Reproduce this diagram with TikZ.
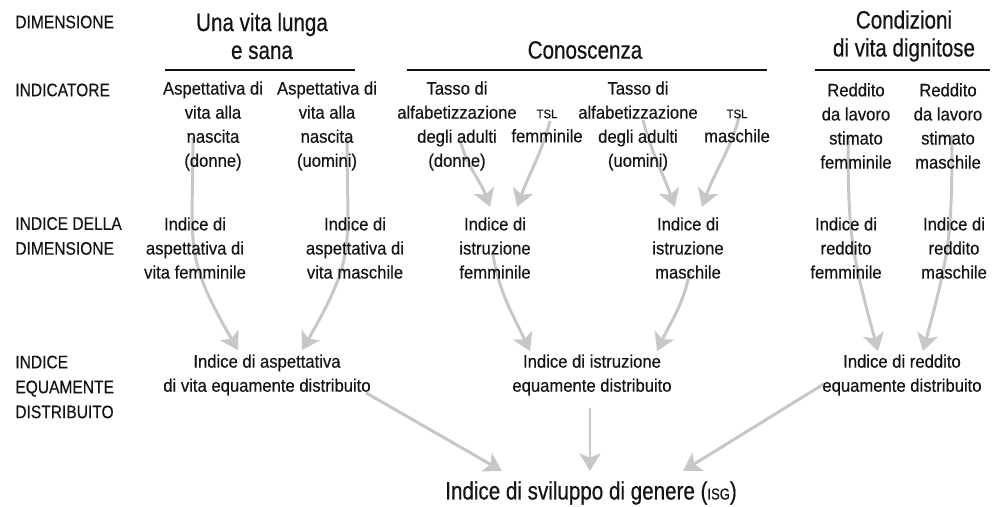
\documentclass[tikz,border=0pt]{standalone}
\usepackage{fontspec}
\setmainfont{Liberation Sans}[FakeStretch=0.92,FakeBold=0.35]
\newfontfamily\headfont{Liberation Sans}[FakeStretch=0.82,FakeBold=0.45]
\newfontfamily\labelfont{Liberation Sans}[FakeStretch=0.86,FakeBold=0.35]
\usepackage{tikz}
\usetikzlibrary{arrows.meta,backgrounds,calc}

\definecolor{ink}{gray}{0.08}
\definecolor{arrowgray}{gray}{0.78}

\tikzset{
  txt/.style={align=center, inner sep=0pt, text=ink, font=\fontsize{10.3}{13.7}\selectfont},
  rowlabel/.style={txt, align=left, anchor=west, font=\labelfont\fontsize{10.3}{14.2}\selectfont},
  head/.style={align=center, inner sep=0pt, text=ink, font=\headfont\fontsize{14.3}{15.9}\selectfont},
  flow/.style={draw=arrowgray, line width=1.7pt, -{Stealth[length=10pt,width=12pt,inset=2.5pt]}},
  rule/.style={draw=ink, line width=1pt},
}

\begin{document}
\begin{tikzpicture}[x=0.02cm, y=-0.02cm]
    \useasboundingbox (0,0) rectangle (992,507);
    %row labels
    \node[rowlabel] (ldim) at (15,22) {DIMENSIONE};
    \node[rowlabel] (lind) at (15,90) {INDICATORE};
    \node[rowlabel] (lidx) at (15,236) {INDICE DELLA\\DIMENSIONE};
    \node[rowlabel] (leq) at (15,387) {INDICE\\EQUAMENTE\\DISTRIBUITO};
    %dimensions
    \node[head] (vita) at (262,36) {Una vita lunga\\e sana};
    \node[head] (con) at (585,50) {Conoscenza};
    \node[head] (cond) at (904,36) {Condizioni\\di vita dignitose};
    \draw[rule] (165,70) -- (355,70);
    \draw[rule] (407,70) -- (767,70);
    \draw[rule] (815,70) -- (990,70);
    %indicators
    \node[txt] (aspf) at (213,126) {Aspettativa di\\vita alla\\nascita\\(donne)};
    \node[txt] (aspm) at (327,126) {Aspettativa di\\vita alla\\nascita\\(uomini)};
    \node[txt] (alff) at (457,126) {Tasso di\\alfabetizzazione\\degli adulti\\(donne)};
    \node[txt] (tslf) at (547,126) {{\scriptsize TSL}\\femminile};
    \node[txt] (alfm) at (638,126) {Tasso di\\alfabetizzazione\\degli adulti\\(uomini)};
    \node[txt] (tslm) at (737,126) {{\scriptsize TSL}\\maschile};
    \node[txt] (redf) at (856,126) {Reddito\\da lavoro\\stimato\\femminile};
    \node[txt] (redm) at (948,126) {Reddito\\da lavoro\\stimato\\maschile};
    %dimension indices
    \node[txt] (iaf) at (195,248) {Indice di\\aspettativa di\\vita femminile};
    \node[txt] (iam) at (355,248) {Indice di\\aspettativa di\\vita maschile};
    \node[txt] (iif) at (495,248) {Indice di\\istruzione\\femminile};
    \node[txt] (iim) at (688,248) {Indice di\\istruzione\\maschile};
    \node[txt] (irf) at (846,248) {Indice di\\reddito\\femminile};
    \node[txt] (irm) at (954,248) {Indice di\\reddito\\maschile};
    %equally distributed
    \node[txt] (eqa) at (267,375) {Indice di aspettativa\\di vita equamente distribuito};
    \node[txt] (eqi) at (592,375) {Indice di istruzione\\equamente distribuito};
    \node[txt] (eqr) at (902,375) {Indice di reddito\\equamente distribuito};
    %final index
    \node[head] (isg) at (591,493) {Indice di sviluppo di genere ({\fontsize{9}{10}\selectfont ISG})};
    %edges
    \begin{pgfonlayer}{background}
    \path
     ($(aspf.center)+(-20,11)$) edge[flow, out=-90, in=120, looseness=1.3] ($(eqa.north)+(-29,-4)$)
     ($(aspm.center)+(20,11)$) edge[flow, out=-90, in=60, looseness=1.3] ($(eqa.north)+(35,-4)$)
     ($(alff.center)+(3,14)$) edge[flow, out=-75, in=110] ($(iif.north)+(-5,-10)$)
     ($(tslf.center)+(3,-5)$) edge[flow, out=-105, in=70] ($(iif.north)+(22,-10)$)
     ($(alfm.center)+(5,-6)$) edge[flow, out=-75, in=110] ($(iim.north)+(-13,-10)$)
     ($(tslm.center)+(3,-12)$) edge[flow, out=-105, in=70] ($(iim.north)+(14,-10)$)
     ($(iif.center)+(-2,7)$) edge[flow, out=-80, in=115] ($(eqi.north)+(-62,-3)$)
     ($(iim.center)+(2,22)$) edge[flow, out=-100, in=65] ($(eqi.north)+(65,-3)$)
     ($(redf.center)+(-8,9)$) edge[flow, out=-90, in=105, looseness=1.2] ($(eqr.north)+(-24,-3)$)
     ($(redm.center)+(4,9)$) edge[flow, out=-90, in=75, looseness=1.2] ($(eqr.north)+(21,-3)$)
     ($(eqa.south east)+(-5,-3)$) edge[flow] ($(isg.north west)+(57,-10)$)
     ($(eqi.south)+(-2,12)$) edge[flow] ($(isg.north)+(-1,-10)$)
     ($(eqr.south west)+(2,-12)$) edge[flow] ($(isg.north)+(92,-10)$);
    \end{pgfonlayer}
\end{tikzpicture}
\end{document}
